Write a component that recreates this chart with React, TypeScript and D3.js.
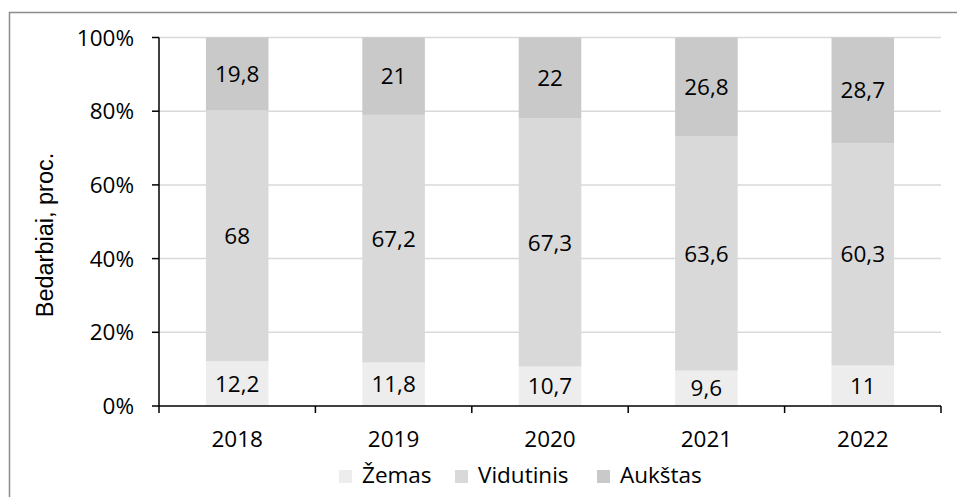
import React from "react";
import * as d3 from "d3";

const years = ["2018", "2019", "2020", "2021", "2022"];
const zemas = [12.2, 11.8, 10.7, 9.6, 11];
const vidutinis = [68, 67.2, 67.3, 63.6, 60.3];
const aukstas = [19.8, 21, 22, 26.8, 28.7];
const seriesNames = ["Žemas", "Vidutinis", "Aukštas"];
const seriesColors = ["#ededed", "#d9d9d9", "#c9c9c9"];
const yTicks = [0, 20, 40, 60, 80, 100];

const W = 957, H = 497;
const left = 159, right = 941, top = 37.5, bottom = 406;
const font = "'Open Sans', sans-serif";
const fs = 22.5;

export default function App() {
  const x = d3.scaleBand().domain(years).range([left, right]).paddingInner(0.6).paddingOuter(0.3);
  const y = d3.scaleLinear().domain([0, 100]).range([bottom, top]);
  const values = [zemas, vidutinis, aukstas];
  const rows = years.map((yr, i) => ({ year: yr, z: zemas[i], v: vidutinis[i], a: aukstas[i] }));
  const stack = d3.stack<any>().keys(["z", "v", "a"]);
  const layers = stack(rows);
  const fmt = (v: number) => String(v).replace(".", ",");
  const step = (right - left) / years.length;

  const legendItems = [
    { x: 339, label: seriesNames[0] },
    { x: 455, label: seriesNames[1] },
    { x: 597, label: seriesNames[2] },
  ];

  return (
    <svg width={W} height={H} style={{ position: "absolute", left: 0, top: 0, display: "block" }}>
      <rect x={0} y={0} width={W} height={H} fill="#fff" />
      <path d={`M9.5,${H} V12.5 H${W}`} fill="none" stroke="#8c8c8c" strokeWidth={1.5} />
      {yTicks.map((t) => (
        <g key={t}>
          {t > 0 && <line x1={left} x2={right} y1={y(t)} y2={y(t)} stroke="#d9d9d9" strokeWidth={1.5} />}
          <line x1={left - 7} x2={left} y1={y(t)} y2={y(t)} stroke="#000" strokeWidth={1.5} />
          <text x={134} y={y(t)} dy="0.36em" textAnchor="end" fontFamily={font} fontSize={fs} fill="#000">
            {t}%
          </text>
        </g>
      ))}
      {layers.map((layer, li) =>
        layer.map((d, i) => (
          <rect key={`${li}-${i}`} x={x(years[i])!} width={x.bandwidth()} y={y(d[1])} height={y(d[0]) - y(d[1])} fill={seriesColors[li]} />
        ))
      )}
      {layers.map((layer, li) =>
        layer.map((d, i) => (
          <text key={`t${li}-${i}`} x={x(years[i])! + x.bandwidth() / 2} y={(y(d[0]) + y(d[1])) / 2} dy="0.36em" textAnchor="middle" fontFamily={font} fontSize={fs} fill="#000">
            {fmt(values[li][i])}
          </text>
        ))
      )}
      <line x1={left} x2={left} y1={top} y2={bottom} stroke="#000" strokeWidth={1.5} />
      <line x1={left} x2={right} y1={bottom} y2={bottom} stroke="#000" strokeWidth={1.5} />
      {d3.range(years.length + 1).map((i) => (
        <line key={i} x1={left + i * step} x2={left + i * step} y1={bottom} y2={bottom + 7} stroke="#000" strokeWidth={1.5} />
      ))}
      {years.map((yr) => (
        <text key={yr} x={x(yr)! + x.bandwidth() / 2} y={447} textAnchor="middle" fontFamily={font} fontSize={fs} fill="#000">
          {yr}
        </text>
      ))}
      <text transform={`translate(53,235) rotate(-90)`} textAnchor="middle" fontFamily="'Liberation Sans', Arial, sans-serif" fontSize={23.5} fill="#000">
        Bedarbiai, proc.
      </text>
      {legendItems.map((it, i) => (
        <g key={it.label}>
          <rect x={it.x} y={470} width={13} height={13} fill={seriesColors[i]} />
          <text x={it.x + 23} y={483} fontFamily={font} fontSize={fs} fill="#000">
            {it.label}
          </text>
        </g>
      ))}
    </svg>
  );
}
